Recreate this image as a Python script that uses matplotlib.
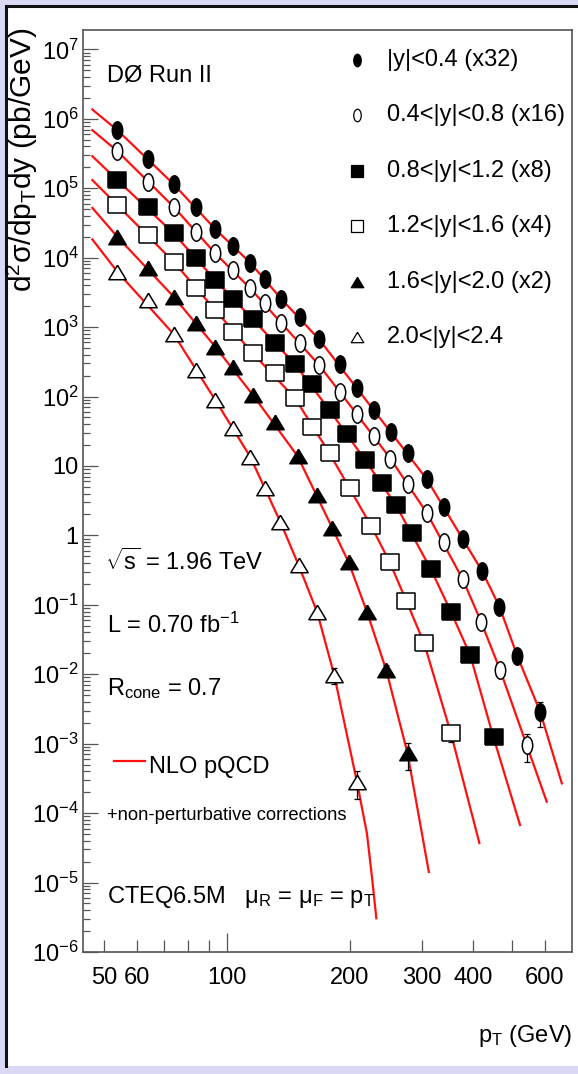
import matplotlib
matplotlib.use('Agg')
import matplotlib.pyplot as plt
from matplotlib.path import Path
from matplotlib.lines import Line2D
from matplotlib.patches import Rectangle

FONT = 'Liberation Sans'
FS = 17
plt.rcParams['font.family'] = [FONT, 'DejaVu Sans']
plt.rcParams['mathtext.fontset'] = 'custom'
plt.rcParams['mathtext.rm'] = FONT
plt.rcParams['mathtext.it'] = FONT
plt.rcParams['mathtext.sf'] = FONT
plt.rcParams['mathtext.default'] = 'rm'

# ---- inclusive jet cross section (pb/GeV), scaled per rapidity bin ----
pt_y1 = [53.8, 63.8, 73.9, 83.8, 93.5, 103.4, 113.9, 123.9, 135.6, 150.4, 168, 188.5, 207.7, 228.6, 251.6,
         276.7, 308.7, 340.4, 378.2, 421, 464.9, 513.8, 584.9]
xs_y1 = [6.85e5, 2.62e5, 1.14e5, 5.39e4, 2.57e4, 1.48e4, 8.42e3, 4.90e3, 2.55e3, 1.39e3, 664, 290, 132, 63.7,
         30.7, 15.2, 6.40, 2.53, 0.876, 0.309, 0.0937, 0.0185, 0.00288]
err_y1 = [0] * 20 + [0.06, 0.1, 0.39]

pt_y2 = [53.8, 63.8, 73.9, 83.8, 93.5, 103.4, 113.9, 123.9, 135.6, 150.4, 168, 188.5, 207.7, 228.6, 251,
         277, 309, 340.5, 378, 419, 466.6, 542]
xs_y2 = [3.42e5, 1.21e5, 5.39e4, 2.35e4, 1.15e4, 6.61e3, 3.60e3, 2.23e3, 1.15e3, 581, 283, 117, 55.8, 26.9,
         12.8, 5.48, 2.07, 0.809, 0.232, 0.0570, 0.0115, 9.56e-4]
err_y2 = [0] * 19 + [0.06, 0.1, 0.43]

pt_y3 = [53.8, 63.8, 73.9, 83.8, 93.5, 103.4, 115.6, 131.1, 146.7, 161.8, 178.1, 196.8, 217.9, 239.4, 259.1,
         283.6, 315.7, 353.4, 394, 449.5]
xs_y3 = [1.31e5, 5.39e4, 2.23e4, 9.73e3, 4.74e3, 2.58e3, 1.29e3, 581, 290, 151, 63.7, 28.7, 12.1, 5.61,
         2.73, 1.07, 0.324, 0.0794, 0.0189, 1.23e-3]
err_y3 = [0] * 18 + [0.06, 0.12]

pt_y4 = [53.8, 63.8, 73.9, 83.8, 93.5, 103.4, 115.6, 131.1, 146.7, 161.2, 178.1, 200.2, 225.4, 249.9, 274.7,
         303.9, 353.4]
xs_y4 = [5.70e4, 2.11e4, 8.70e3, 3.60e3, 1.75e3, 854, 417, 215, 93.9, 36.6, 15.2, 4.75, 1.36, 0.417,
         0.114, 0.0279, 1.41e-3]
err_y4 = [0] * 15 + [0.08, 0.25]

pt_y5 = [53.8, 63.8, 73.9, 83.8, 93.5, 103.4, 115.6, 131.1, 148.7, 166, 181.1, 198.3, 220, 245.3, 276.7]
xs_y5 = [1.99e4, 6.99e3, 2.73e3, 1.13e3, 519, 268, 105, 43.2, 13.9, 3.80, 1.26, 0.412, 0.0794, 0.0115,
         7.26e-4]
err_y5 = [0] * 13 + [0.2, 0.43]

pt_y6 = [53.8, 63.8, 73.9, 83.8, 93.5, 103.4, 113.9, 123.9, 134.9, 149.6, 166, 182.9, 207.9]
xs_y6 = [6.25e3, 2.44e3, 791, 240, 88.7, 34.7, 13.5, 4.80, 1.57, 0.373, 0.0794, 9.74e-3, 2.83e-4]
err_y6 = [0] * 11 + [0.25, 0.43]

# ---- NLO pQCD + non-perturbative corrections: start and end of each curve ----
th_start_pt = 46.7
th_start_xs = [1.36e6, 6.85e5, 2.89e5, 1.31e5, 5.21e4, 1.83e4]
th_tail_pt = [[661], [607], [522], [415], [312], [220, 226.3, 232]]
th_tail_xs = [[2.68e-4], [1.46e-4], [6.74e-5], [3.71e-5], [1.42e-5], [5.1e-5, 1.21e-5, 3.06e-6]]

labels = ['|y|<0.4 (x32)', '0.4<|y|<0.8 (x16)', '0.8<|y|<1.2 (x8)',
          '1.2<|y|<1.6 (x4)', '1.6<|y|<2.0 (x2)', '2.0<|y|<2.4']


def squeezed(verts, codes=None, sx=0.6):
    return Path([(x * sx, y) for x, y in verts], codes)


circle = Path.unit_circle()
m_circle = squeezed(circle.vertices, circle.codes)
m_square = squeezed([(-0.5, -0.5), (0.5, -0.5), (0.5, 0.5), (-0.5, 0.5), (-0.5, -0.5)], sx=1.1)
m_tri = squeezed([(0, 0.5), (-0.5, -0.5), (0.5, -0.5), (0, 0.5)], sx=1.2)

styles = [(m_circle, True), (m_circle, False), (m_square, True),
          (m_square, False), (m_tri, True), (m_tri, False)]

series = [(pt_y1, xs_y1, err_y1), (pt_y2, xs_y2, err_y2), (pt_y3, xs_y3, err_y3),
          (pt_y4, xs_y4, err_y4), (pt_y5, xs_y5, err_y5), (pt_y6, xs_y6, err_y6)]


def curve_knots(pt, xs, i):
    # the prediction runs close to the points: every other point, then the last few
    n = len(pt)
    keep = sorted(set(range(0, n - 4, 2)) | set(range(n - 4, n)))
    kp = [th_start_pt] + [pt[k] for k in keep] + th_tail_pt[i]
    kv = [th_start_xs[i]] + [xs[k] for k in keep] + th_tail_xs[i]
    return kp, kv


W, H = 578, 1074
fig = plt.figure(figsize=(W / 100, H / 100), dpi=100)
fig.patch.set_facecolor('#d9d9f5')


def fx(px):
    return px / W


def fy(py):
    return 1 - py / H


# white canvas with dark frame on top/left
fig.patches.append(Rectangle((fx(7), fy(1066)), 1.0, fy(7) - fy(1066), transform=fig.transFigure,
                             facecolor='white', edgecolor='none', zorder=-5))
fig.lines.append(Line2D([fx(6), fx(6)], [fy(1066), fy(6)], transform=fig.transFigure,
                        color='#111111', lw=2.2, zorder=-4))
fig.lines.append(Line2D([fx(6), 1.0], [fy(6), fy(6)], transform=fig.transFigure,
                        color='#111111', lw=2.2, zorder=-4))

ax = fig.add_axes([fx(83), fy(952), fx(572) - fx(83), fy(30) - fy(952)])
ax.set_facecolor('none')
ax.set_xscale('log')
ax.set_yscale('log')
ax.set_xlim(44.3, 700)
ax.set_ylim(1e-6, 1.9e7)

for i, (pt, xs, err) in enumerate(series):
    kp, kv = curve_knots(pt, xs, i)
    ax.plot(kp, kv, color='#ff1010', lw=1.6, zorder=2)

for (pt, xs, err), (mk, filled) in zip(series, styles):
    lo = [v * e for v, e in zip(xs, err)]
    hi = [v * e for v, e in zip(xs, err)]
    ax.errorbar(pt, xs, yerr=[lo, hi], fmt='none', ecolor='black', elinewidth=0.9,
                capsize=2.5, capthick=0.9, zorder=3)
    ax.plot(pt, xs, ls='none', marker=mk, markersize=12.5,
            markerfacecolor='black' if filled else 'white',
            markeredgecolor='black', markeredgewidth=1.1, zorder=4)

# axis styling
for sp in ax.spines.values():
    sp.set_color('#555555')
    sp.set_linewidth(1.2)
ax.tick_params(which='both', direction='in', top=False, right=False, colors='#555555',
               labelcolor='black', labelsize=FS, width=0.9)
ax.tick_params(axis='y', which='major', length=11, pad=3)
ax.tick_params(axis='y', which='minor', length=5)
ax.tick_params(axis='x', which='major', length=14, pad=11)
ax.tick_params(axis='x', which='minor', length=8.5, pad=11)

ax.set_xticks([100], ['100'])
ax.set_xticks([50, 60, 70, 80, 90, 200, 300, 400, 500, 600],
              ['50', '60', '', '', '', '200', '300', '400', '', '600'], minor=True)

ydec = list(range(-6, 8))
ylab = ['1' if k == 0 else '10' if k == 1 else '10$^{%d}$' % k for k in ydec]
ax.set_yticks([10.0 ** k for k in ydec], ylab)
ax.set_yticks([m * 10.0 ** k for k in range(-6, 8) for m in range(2, 10) if m * 10.0 ** k < 1.9e7],
              minor=True)
ax.yaxis.set_minor_formatter(plt.NullFormatter())

fig.text(fx(22), fy(28), 'd$^{2}$σ/dp$_{T}$dy (pb/GeV)', rotation=90, ha='center', va='top', fontsize=21.5)
fig.text(fx(572), fy(1042), 'p$_{T}$ (GeV)', ha='right', va='baseline', fontsize=FS)

# legend
for i, (lab, (mk, filled)) in enumerate(zip(labels, styles)):
    yy = 60 + 55.4 * i
    fig.lines.append(Line2D([fx(357)], [fy(yy)], transform=fig.transFigure, ls='none', marker=mk,
                            markersize=9, markerfacecolor='black' if filled else 'white',
                            markeredgecolor='black', markeredgewidth=0.9))
    fig.text(fx(387), fy(yy), lab, ha='left', va='center', fontsize=FS)

fig.text(fx(107), fy(82), 'DØ Run II', ha='left', va='baseline', fontsize=FS)
fig.text(fx(105), fy(570), r'$\sqrt{s}$ = 1.96 TeV', ha='left', va='baseline', fontsize=FS)
fig.text(fx(107), fy(633), 'L = 0.70 fb$^{-1}$', ha='left', va='baseline', fontsize=FS)
fig.text(fx(107), fy(695), 'R$_{cone}$ = 0.7', ha='left', va='baseline', fontsize=FS)
fig.lines.append(Line2D([fx(114), fx(145)], [fy(761), fy(761)], transform=fig.transFigure,
                        color='#ff1010', lw=1.6))
fig.text(fx(149), fy(773), 'NLO pQCD', ha='left', va='baseline', fontsize=FS)
fig.text(fx(107), fy(820), '+non-perturbative corrections', ha='left', va='baseline', fontsize=FS * 0.78)
fig.text(fx(107), fy(903), 'CTEQ6.5M   μ$_{R}$ = μ$_{F}$ = p$_{T}$', ha='left', va='baseline', fontsize=FS)

fig.savefig('out.png', dpi=100, facecolor=fig.get_facecolor())
